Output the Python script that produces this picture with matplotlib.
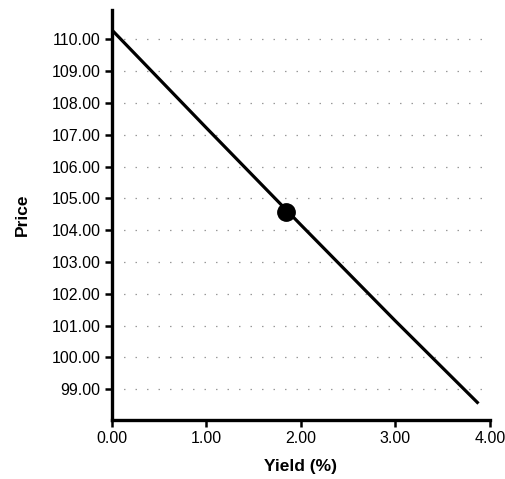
import matplotlib
matplotlib.use("Agg")
import matplotlib.pyplot as plt

# Data
yield_pct = [0.0, 1.0, 2.0, 3.0, 3.88]
price = [110.30, 107.22, 104.17, 101.15, 98.55]
point_yield = [1.84]
point_price = [104.57]
x_ticks = [0.0, 1.0, 2.0, 3.0, 4.0]
y_ticks = [99, 100, 101, 102, 103, 104, 105, 106, 107, 108, 109, 110]

plt.rcParams['font.family'] = ['Liberation Sans', 'DejaVu Sans']

fig = plt.figure(figsize=(5.06, 4.79), dpi=100)
ax = fig.add_axes([0.2208, 0.123, 0.968 - 0.2208, 0.979 - 0.123])

ax.plot(yield_pct, price, color='black', lw=2.3, solid_capstyle='butt',
        solid_joinstyle='round', zorder=3)
ax.plot(point_yield, point_price, 'o', color='black', markersize=12.5, zorder=4)

ax.set_xlim(0, 4)
ax.set_ylim(98.03, 110.92)
ax.set_xticks(x_ticks)
ax.set_xticklabels([f"{v:.2f}" for v in x_ticks])
ax.set_yticks(y_ticks)
ax.set_yticklabels([f"{v:.2f}" for v in y_ticks])

ax.yaxis.grid(True, linestyle=(0, (1.2, 8)), color='#999999', linewidth=0.9)
ax.set_axisbelow(True)

for s in ['top', 'right']:
    ax.spines[s].set_visible(False)
for s in ['left', 'bottom']:
    ax.spines[s].set_linewidth(2.4)
    ax.spines[s].set_color('black')

ax.tick_params(axis='both', direction='out', length=5, width=1.8, labelsize=11.5, colors='black', pad=3)

ax.set_xlabel('Yield (%)', fontsize=12.5, fontweight='bold', labelpad=9)
ax.set_ylabel('Price', fontsize=12.5, fontweight='bold', labelpad=16)

fig.savefig('out.png', dpi=100)
